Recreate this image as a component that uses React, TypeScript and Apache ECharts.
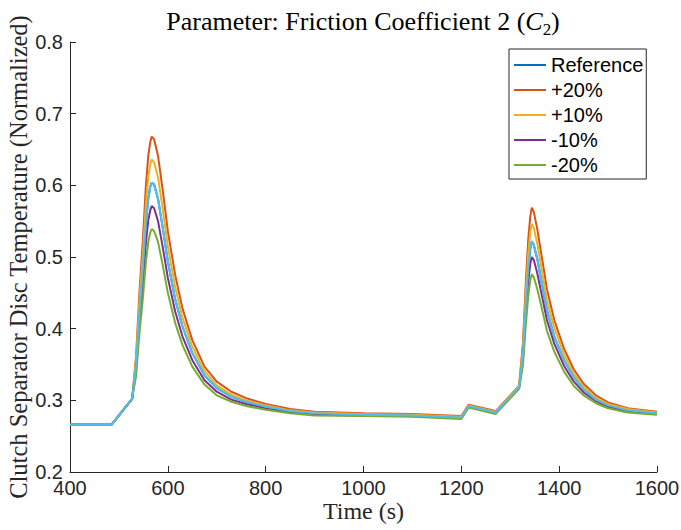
import React, { useEffect, useRef } from "react";
import * as echarts from "echarts";

// Time samples (s)
const TIME = [
  400, 485, 527, 535, 542, 549, 555, 560, 564, 567, 572, 580, 590, 600, 615, 630,
  650, 675, 700, 730, 760, 800, 850, 900, 1000, 1100, 1200, 1215, 1270, 1318,
  1326, 1332, 1337, 1341, 1344, 1348, 1355, 1365, 1375, 1390, 1410, 1430, 1450,
  1475, 1500, 1540, 1600,
];

const REFERENCE = [
  0.266, 0.266, 0.302, 0.348, 0.423, 0.484, 0.546, 0.581, 0.598, 0.604, 0.601, 0.581,
  0.539, 0.494, 0.441, 0.403, 0.366, 0.335, 0.317, 0.305, 0.298, 0.291, 0.285, 0.282,
  0.28, 0.279, 0.276, 0.292, 0.283, 0.318, 0.365, 0.437, 0.486, 0.512, 0.522, 0.517,
  0.498, 0.462, 0.426, 0.389, 0.356, 0.332, 0.315, 0.301, 0.293, 0.286, 0.282,
];

const PLUS20 = [
  0.266, 0.266, 0.302, 0.361, 0.451, 0.524, 0.598, 0.641, 0.66, 0.668, 0.664, 0.641,
  0.591, 0.536, 0.475, 0.428, 0.384, 0.347, 0.326, 0.312, 0.303, 0.295, 0.288, 0.284,
  0.282, 0.281, 0.278, 0.294, 0.285, 0.32, 0.381, 0.468, 0.526, 0.557, 0.569, 0.563,
  0.54, 0.498, 0.455, 0.412, 0.372, 0.343, 0.323, 0.307, 0.297, 0.289, 0.284,
];

const PLUS10 = [
  0.266, 0.266, 0.302, 0.355, 0.437, 0.504, 0.572, 0.611, 0.629, 0.636, 0.632, 0.611,
  0.565, 0.515, 0.458, 0.415, 0.375, 0.341, 0.321, 0.308, 0.3, 0.293, 0.286, 0.283,
  0.281, 0.28, 0.277, 0.293, 0.284, 0.319, 0.373, 0.453, 0.506, 0.535, 0.546, 0.541,
  0.52, 0.48, 0.44, 0.401, 0.364, 0.337, 0.319, 0.304, 0.295, 0.288, 0.283,
];

const MINUS10 = [
  0.266, 0.266, 0.302, 0.341, 0.408, 0.463, 0.519, 0.551, 0.565, 0.571, 0.568, 0.55,
  0.512, 0.471, 0.424, 0.389, 0.356, 0.328, 0.312, 0.301, 0.295, 0.289, 0.283, 0.28,
  0.279, 0.278, 0.275, 0.291, 0.282, 0.317, 0.357, 0.423, 0.467, 0.491, 0.5, 0.496,
  0.478, 0.445, 0.412, 0.379, 0.348, 0.326, 0.311, 0.299, 0.291, 0.285, 0.281,
];

const MINUS20 = [
  0.266, 0.266, 0.302, 0.334, 0.394, 0.443, 0.492, 0.521, 0.534, 0.539, 0.536, 0.521,
  0.487, 0.45, 0.408, 0.377, 0.347, 0.322, 0.307, 0.298, 0.292, 0.287, 0.282, 0.279,
  0.278, 0.277, 0.274, 0.29, 0.281, 0.316, 0.349, 0.407, 0.447, 0.468, 0.476, 0.472,
  0.456, 0.427, 0.397, 0.368, 0.34, 0.32, 0.307, 0.296, 0.289, 0.283, 0.28,
];

const LEGEND_NAMES = ["Reference", "+20%", "+10%", "-10%", "-20%"];
const X_MIN = 400;
const X_MAX = 1600;
const X_STEP = 200;
const Y_MIN = 0.2;
const Y_MAX = 0.8;
const Y_STEP = 0.1;

const TITLE = "Parameter: Friction Coefficient 2 (";
const X_NAME = "Time (s)";
const Y_NAME = "Clutch Separator Disc Temperature (Normalized)";

const SANS = "Liberation Sans";
const SERIF = "Liberation Serif";
const AXIS_COLOR = "#262626";

function pairs(ys: number[]) {
  return TIME.map((t, i) => [t, ys[i]]);
}

export default function App() {
  const ref = useRef<HTMLDivElement>(null);

  useEffect(() => {
    if (!ref.current) return;
    const chart = echarts.init(ref.current, undefined, { renderer: "svg" });

    const mk = (name: string, data: number[], color: string) => ({
      name,
      type: "line",
      data: pairs(data),
      symbol: "none",
      showSymbol: false,
      lineStyle: { width: 2, color },
      itemStyle: { color },
      emphasis: { disabled: true },
    });

    chart.setOption({
      animation: false,
      backgroundColor: "#ffffff",
      grid: {
        left: 70,
        right: 24,
        top: 42,
        bottom: 58,
        containLabel: false,
        outerBoundsMode: "none",
      },
      graphic: [
        {
          type: "text",
          x: 363,
          y: 21,
          style: {
            text: `{n|${TITLE}}{i|C}{s|2}{n|)}`,
            align: "center",
            verticalAlign: "middle",
            textAlign: "center",
            textVerticalAlign: "middle",
            fill: "#000",
            rich: {
              n: { fontFamily: SERIF, fontSize: 26, lineHeight: 30, fill: "#000", color: "#000" },
              i: {
                fontFamily: SERIF,
                fontSize: 26,
                fontStyle: "italic",
                lineHeight: 30,
                fill: "#000",
                color: "#000",
              },
              s: {
                fontFamily: SERIF,
                fontSize: 17,
                lineHeight: 17,
                padding: [16, 0, 0, 0],
                fill: "#000",
                color: "#000",
              },
            },
          },
        },
      ],
      legend: {
        data: LEGEND_NAMES,
        orient: "vertical",
        left: 509,
        top: 49,
        padding: [6, 3, 4, 5],
        itemGap: 5,
        itemWidth: 32,
        itemHeight: 2,
        icon: "rect",
        borderColor: AXIS_COLOR,
        borderWidth: 1,
        backgroundColor: "#ffffff",
        selectedMode: false,
        textStyle: {
          fontFamily: SANS,
          fontSize: 20,
          lineHeight: 20,
          color: "#000",
          padding: [0, 0, 0, 0],
        },
      },
      xAxis: {
        type: "value",
        min: X_MIN,
        max: X_MAX,
        interval: X_STEP,
        name: X_NAME,
        nameLocation: "middle",
        nameGap: 27,
        nameMoveOverlap: false,
        nameTextStyle: { fontFamily: SERIF, fontSize: 24, color: "#262626" },
        axisLine: { show: true, onZero: false, lineStyle: { color: AXIS_COLOR, width: 1 } },
        axisTick: { show: true, inside: true, length: 6, lineStyle: { color: AXIS_COLOR } },
        axisLabel: {
          fontFamily: SANS,
          fontSize: 20,
          lineHeight: 15,
          color: AXIS_COLOR,
          margin: 8,
          formatter: (v: number) => String(v),
        },
        splitLine: { show: false },
      },
      yAxis: {
        type: "value",
        min: Y_MIN,
        max: Y_MAX,
        interval: Y_STEP,
        name: Y_NAME,
        nameLocation: "middle",
        nameGap: 39,
        nameMoveOverlap: false,
        nameTextStyle: { fontFamily: SERIF, fontSize: 24.5, color: "#262626" },
        axisLine: { show: true, onZero: false, lineStyle: { color: AXIS_COLOR, width: 1 } },
        axisTick: { show: true, inside: true, length: 6, lineStyle: { color: AXIS_COLOR } },
        axisLabel: {
          fontFamily: SANS,
          fontSize: 20,
          lineHeight: 15,
          color: AXIS_COLOR,
          margin: 7,
          formatter: (v: number) => v.toFixed(1),
        },
        splitLine: { show: false },
      },
      series: [
        mk("Reference", REFERENCE, "#0072BD"),
        mk("+20%", PLUS20, "#D95319"),
        mk("+10%", PLUS10, "#EDB120"),
        mk("-10%", MINUS10, "#7E2F8E"),
        mk("-20%", MINUS20, "#77AC30"),
        mk("Reference (overlay)", REFERENCE, "#4DBEEE"),
      ],
    });

    return () => chart.dispose();
  }, []);

  return (
    <div
      ref={ref}
      style={{ position: "absolute", left: 0, top: 0, width: 681, height: 530, background: "#fff" }}
    />
  );
}
